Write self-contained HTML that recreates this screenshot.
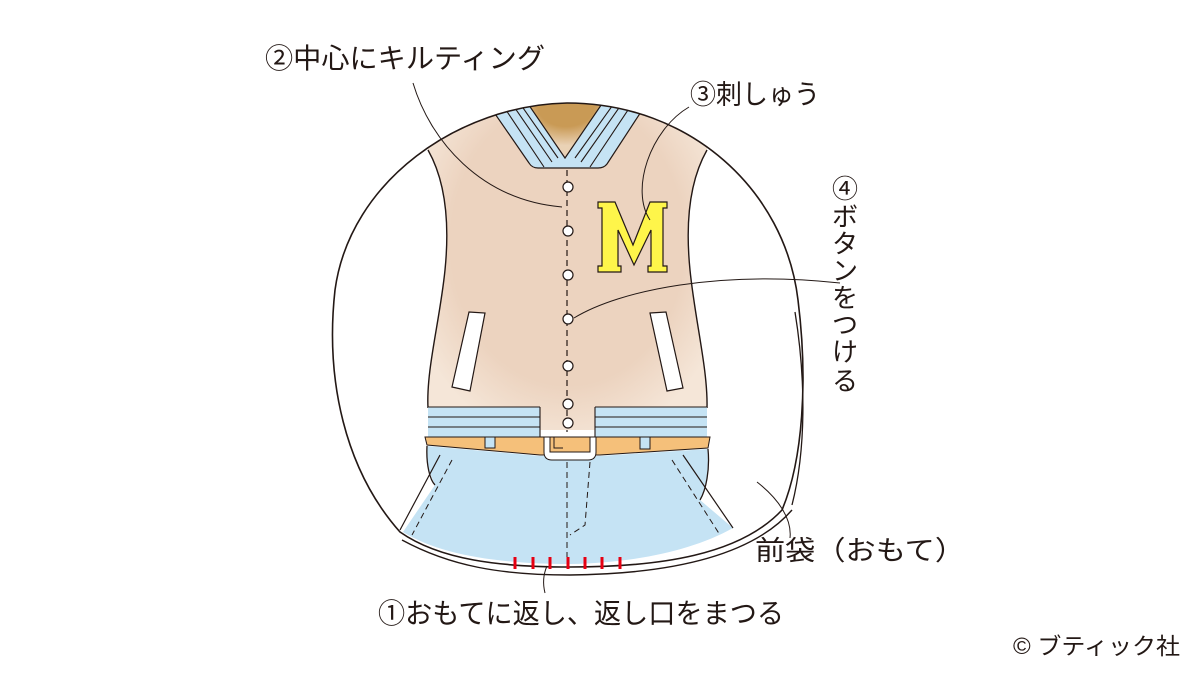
<!DOCTYPE html>
<html><head><meta charset="utf-8"><style>
html,body{margin:0;padding:0;background:#fff;width:1200px;height:675px;overflow:hidden}
text{font-family:"Liberation Sans","Noto Sans CJK JP",sans-serif;fill:#231815}
</style></head><body>
<svg width="1200" height="675" viewBox="0 0 1200 675" xmlns="http://www.w3.org/2000/svg">
<defs>
<radialGradient id="bg" cx="50%" cy="45%" r="60%">
<stop offset="0.7" stop-color="#ecd3bf"/><stop offset="1" stop-color="#f5e6d8"/></radialGradient>
<radialGradient id="nk" cx="50%" cy="20%" r="60%"><stop offset="0.5" stop-color="#c99a55"/><stop offset="1" stop-color="#ead2b5"/></radialGradient>
<clipPath id="egg"><path d="M400,532 C345,470 325,380 335,290 C350,180 460,105 567,103 C690,103 785,190 798,300 C808,380 803,460 782,510 C740,555 660,572 570,572 C500,572 440,560 400,532 Z"/></clipPath>
</defs>
<g clip-path="url(#egg)">
<!-- jacket body -->
<path d="M428,140 L428,150 C445,180 450,220 445,270 C440,320 426,370 428,408 L540,408 L540,430 L595,430 L595,408 L707,408 C708,370 695,320 690,270 C685,220 690,180 707,150 L707,90 L428,90 Z" fill="url(#bg)"/>
<path d="M520,95 L612,95 L567,158 Z" fill="url(#nk)"/>
<path d="M482,95 L522,95 L565,158 L608,95 L652,95 L607,164 Q604,168 598,168 L538,168 Q532,168 529,163 Z" fill="#c5e3f4" stroke="#231815" stroke-width="1.2"/>
<path d="M496,95 L544,167 M506,95 L552,162 M514,95 L558,158 M638,95 L590,167 M628,95 L581,162 M620,95 L575,158" stroke="#231815" stroke-width="1.1" fill="none"/>
</g>
<path d="M428,150 C445,180 450,220 445,270 C440,320 426,370 428,408" fill="none" stroke="#231815" stroke-width="1.4"/>
<path d="M707,150 C690,180 685,220 690,270 C695,320 708,370 707,408" fill="none" stroke="#231815" stroke-width="1.4"/>
<!-- waistband stripes -->
<rect x="428" y="407" width="112" height="30" fill="#c5e3f4"/>
<rect x="595" y="407" width="112" height="30" fill="#c5e3f4"/>
<path d="M428,407 H540 M428,417 H540 M428,427 H540 M595,407 H707 M595,417 H707 M595,427 H707 M540,407 V437 M595,407 V437" stroke="#231815" stroke-width="1.1"/>
<!-- belt -->
<path d="M425,437 L710,437 L708,448 L600,455 L540,455 L427,445 Z" fill="#f5c07a" stroke="#231815" stroke-width="1"/>
<rect x="485" y="437" width="10" height="11" fill="#c5e3f4" stroke="#231815" stroke-width="1"/>
<rect x="640" y="437" width="10" height="12" fill="#c5e3f4" stroke="#231815" stroke-width="1"/>
<!-- jeans -->
<path d="M427,446 L540,456 L600,456 L708,449 C710,470 705,490 700,500 L733,528 C690,552 630,563 570,564 C500,564 440,555 403,532 L435,485 C428,470 426,460 427,446 Z" fill="#c5e3f4"/>
<path d="M427,446 C426,465 430,480 435,485 M708,449 C710,470 706,490 700,500" fill="none" stroke="#231815" stroke-width="1.3"/>
<path d="M440,455 L400,530 M683,455 L733,528" stroke="#231815" stroke-width="1.2" fill="none"/>
<path d="M452,460 L412,535 M672,460 L720,535 M567,462 V565 M590,462 L585,525 L570,535" stroke="#231815" stroke-width="1" stroke-dasharray="6,4" fill="none"/>
<!-- outer bag outline on top -->
<path d="M400,532 C345,470 325,380 335,290 C350,180 460,105 567,103 C690,103 785,190 798,300 C808,380 803,460 782,510 C740,555 660,567 570,567 C500,567 440,560 400,532 Z" fill="none" stroke="#231815" stroke-width="1.6"/>
<path d="M402,540 C450,566 500,575 570,575 C670,574 752,556 792,510" fill="none" stroke="#231815" stroke-width="1.4"/>
<path d="M795,312 C806,380 806,450 792,505" fill="none" stroke="#231815" stroke-width="1.3"/>
<!-- buckle -->
<path d="M544,437 V452 Q544,460 552,460 H588 Q596,460 596,452 V437 H590 V452 H550 V437 Z" fill="#fff" stroke="#231815" stroke-width="1"/>
<path d="M554,437 V448 H563" fill="none" stroke="#231815" stroke-width="1"/>
<!-- placket dashed + buttons -->
<path d="M567,170 V432" stroke="#231815" stroke-width="1.2" stroke-dasharray="6,4"/>
<g fill="#fff" stroke="#231815" stroke-width="1.2">
<circle cx="568" cy="187" r="5"/><circle cx="568" cy="231" r="5"/><circle cx="568" cy="275" r="5"/><circle cx="568" cy="319" r="5"/><circle cx="568" cy="366" r="5"/><circle cx="568" cy="404" r="5"/><circle cx="568" cy="423" r="5"/></g>
<!-- pockets -->
<path d="M469,312 L485,313 L470,391 L452,387 Z" fill="#fff" stroke="#231815" stroke-width="1.2"/>
<path d="M650,313 L666,312 L683,388 L667,391 Z" fill="#fff" stroke="#231815" stroke-width="1.2"/>
<!-- M -->
<path d="M598,202 L615,202 L633,245 L650,202 L667,202 L667,208 L663,208 L663,266 L667,266 L667,272 L648,272 L648,266 L651,266 L651,230 L634,265 L618,230 L618,266 L621,266 L621,272 L598,272 L598,266 L602,266 L602,208 L598,208 Z" fill="#fef54a" stroke="#231815" stroke-width="1.2"/>
<!-- stitches -->
<path d="M515,557 V569 M533,557 V569 M550,557 V569 M568,557 V569 M585,557 V569 M602,557 V569 M620,557 V569" stroke="#e60012" stroke-width="3"/>
<!-- leaders -->
<g fill="none" stroke="#231815" stroke-width="1">
<path d="M413,83 C430,140 480,200 562,207"/>
<path d="M689,107 C650,130 630,190 650,220"/>
<path d="M840,283 C720,270 620,290 574,318"/>
<path d="M757,482 C780,500 792,520 790,538"/>
<path d="M547,566 C543,575 543,585 545,593"/>
</g>
<!-- labels -->
<text x="265" y="68" font-size="28" textLength="280" lengthAdjust="spacingAndGlyphs">②中心にキルティング</text>
<text x="690" y="104" font-size="27" textLength="130" lengthAdjust="spacingAndGlyphs">③刺しゅう</text>
<g font-size="26" text-anchor="middle">
<text x="845" y="198">④</text><text x="845" y="226">ボ</text><text x="845" y="253">タ</text><text x="845" y="280">ン</text><text x="845" y="307">を</text><text x="845" y="334">つ</text><text x="845" y="361">け</text><text x="845" y="390">る</text></g>
<text x="755" y="560" font-size="27" textLength="210" lengthAdjust="spacingAndGlyphs">前袋（おもて）</text>
<text x="378" y="623" font-size="28" textLength="406" lengthAdjust="spacingAndGlyphs">①おもてに返し、返し口をまつる</text>
<text x="1013" y="654" font-size="23" textLength="167" lengthAdjust="spacingAndGlyphs">© ブティック社</text>
</svg>
</body></html>
